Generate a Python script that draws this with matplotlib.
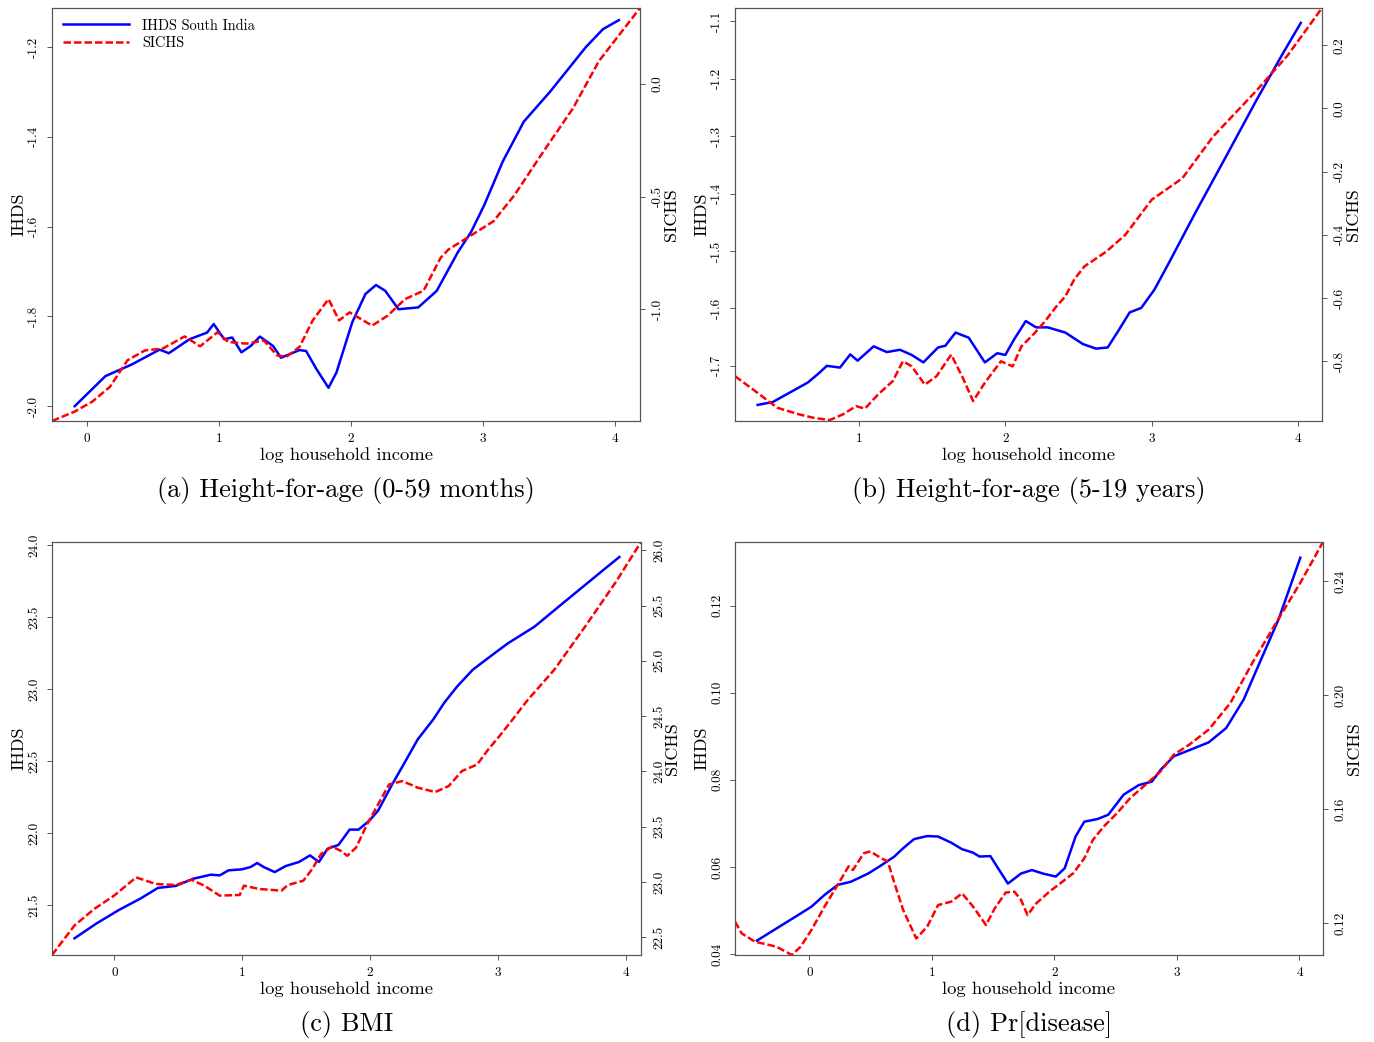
import numpy as np
import matplotlib
matplotlib.use("Agg")
import matplotlib.pyplot as plt

plt.rcParams['font.family'] = ['cmr10', 'DejaVu Serif']
plt.rcParams['axes.unicode_minus'] = False

# =========================
# DATA
# =========================
# (a) Height-for-age (0-59 months)
a_ihds_x = [-0.093, 0.14, 0.34, 0.55, 0.62, 0.776, 0.91, 0.96, 1.04, 1.1, 1.17, 1.24, 1.31, 1.41, 1.47,
            1.61, 1.66, 1.74, 1.83, 1.89, 2.01, 2.11, 2.19, 2.26, 2.36, 2.51, 2.65, 2.81, 2.91, 3.01,
            3.15, 3.31, 3.51, 3.78, 3.91, 4.03]
a_ihds_y = [-2.0, -1.933, -1.907, -1.874, -1.882, -1.851, -1.836, -1.817, -1.851, -1.847, -1.88, -1.866,
            -1.845, -1.866, -1.892, -1.875, -1.877, -1.918, -1.959, -1.925, -1.813, -1.75, -1.73, -1.743,
            -1.784, -1.78, -1.743, -1.657, -1.612, -1.552, -1.455, -1.366, -1.299, -1.2, -1.16, -1.14]
a_sichs_x = [-0.265, -0.093, 0.04, 0.174, 0.307, 0.44, 0.574, 0.74, 0.857, 0.99, 1.07, 1.21, 1.34, 1.44,
             1.51, 1.61, 1.71, 1.83, 1.91, 1.99, 2.16, 2.28, 2.41, 2.55, 2.68, 2.74, 2.88, 3.08, 3.24,
             3.44, 3.68, 3.88, 4.19]
a_sichs_y = [-1.498, -1.456, -1.412, -1.346, -1.228, -1.184, -1.176, -1.122, -1.166, -1.103, -1.147,
             -1.154, -1.14, -1.206, -1.213, -1.169, -1.051, -0.956, -1.051, -1.015, -1.074, -1.029,
             -0.956, -0.919, -0.772, -0.735, -0.684, -0.61, -0.493, -0.316, -0.11, 0.103, 0.338]

# (b) Height-for-age (5-19 years)
b_ihds_x = [0.307, 0.41, 0.53, 0.65, 0.72, 0.78, 0.87, 0.94, 0.99, 1.1, 1.19, 1.28, 1.36, 1.44, 1.54,
            1.59, 1.66, 1.75, 1.86, 1.945, 2.0, 2.06, 2.14, 2.21, 2.29, 2.41, 2.53, 2.62, 2.70, 2.78,
            2.85, 2.93, 3.02, 3.12, 3.3, 3.51, 3.72, 3.9, 4.02]
b_ihds_y = [-1.768, -1.763, -1.746, -1.729, -1.714, -1.7, -1.703, -1.68, -1.691, -1.666, -1.676, -1.672,
            -1.681, -1.694, -1.668, -1.665, -1.642, -1.651, -1.694, -1.678, -1.681, -1.654, -1.622,
            -1.633, -1.633, -1.642, -1.662, -1.67, -1.668, -1.636, -1.607, -1.599, -1.567, -1.52,
            -1.433, -1.335, -1.236, -1.155, -1.103]
b_sichs_x = [0.152, 0.292, 0.44, 0.59, 0.69, 0.8, 0.89, 0.98, 1.04, 1.13, 1.23, 1.3, 1.36, 1.45, 1.53,
             1.63, 1.71, 1.78, 1.86, 1.97, 2.05, 2.11, 2.2, 2.27, 2.35, 2.41, 2.47, 2.54, 2.69, 2.82,
             3.0, 3.21, 3.42, 3.72, 3.93, 4.165]
b_sichs_y = [-0.847, -0.895, -0.947, -0.968, -0.979, -0.986, -0.968, -0.942, -0.95, -0.905, -0.863,
             -0.8, -0.816, -0.874, -0.847, -0.779, -0.853, -0.926, -0.868, -0.8, -0.816, -0.753,
             -0.711, -0.674, -0.626, -0.595, -0.542, -0.5, -0.453, -0.4, -0.289, -0.221, -0.089,
             0.058, 0.168, 0.318]

# (c) BMI
c_ihds_x = [-0.313, -0.141, 0.031, 0.203, 0.34, 0.479, 0.617, 0.754, 0.823, 0.892, 0.996, 1.065, 1.116,
            1.168, 1.254, 1.34, 1.443, 1.53, 1.6, 1.667, 1.753, 1.84, 1.91, 1.995, 2.063, 2.167, 2.27,
            2.373, 2.494, 2.58, 2.683, 2.804, 2.89, 2.993, 3.08, 3.287, 3.476, 3.682, 3.855, 3.951]
c_ihds_y = [21.27, 21.373, 21.465, 21.546, 21.62, 21.634, 21.684, 21.712, 21.707, 21.742, 21.749, 21.765,
            21.793, 21.765, 21.73, 21.772, 21.8, 21.846, 21.8, 21.892, 21.919, 22.025, 22.025, 22.088,
            22.157, 22.33, 22.49, 22.652, 22.79, 22.906, 23.021, 23.136, 23.194, 23.263, 23.32,
            23.435, 23.574, 23.724, 23.85, 23.919]
c_sichs_x = [-0.489, -0.313, -0.158, -0.003, 0.169, 0.324, 0.479, 0.6, 0.703, 0.823, 0.98, 1.013, 1.133,
             1.306, 1.357, 1.478, 1.547, 1.616, 1.702, 1.771, 1.822, 1.891, 1.977, 2.063, 2.149, 2.253,
             2.373, 2.511, 2.615, 2.718, 2.838, 2.924, 3.011, 3.114, 3.235, 3.441, 3.682, 3.924, 4.12]
c_sichs_y = [22.34, 22.607, 22.757, 22.877, 23.042, 22.982, 22.973, 23.021, 22.967, 22.877, 22.883,
             22.967, 22.937, 22.922, 22.973, 23.012, 23.117, 23.252, 23.321, 23.282, 23.237, 23.312,
             23.523, 23.703, 23.883, 23.913, 23.853, 23.814, 23.868, 24.003, 24.063, 24.198, 24.318,
             24.468, 24.649, 24.919, 25.309, 25.715, 26.075]

# (d) Pr[disease]
d_ihds_x = [-0.427, -0.267, -0.089, 0.018, 0.125, 0.232, 0.338, 0.481, 0.588, 0.694, 0.766, 0.855, 0.962,
            1.05, 1.157, 1.246, 1.336, 1.389, 1.478, 1.532, 1.621, 1.728, 1.817, 1.906, 2.012, 2.084,
            2.173, 2.244, 2.351, 2.44, 2.565, 2.689, 2.796, 2.867, 2.974, 3.117, 3.259, 3.402, 3.544,
            3.686, 3.829, 4.007]
d_ihds_y = [0.0431, 0.0459, 0.049, 0.0509, 0.0536, 0.0559, 0.0566, 0.0585, 0.0604, 0.0624, 0.0643,
            0.0664, 0.0671, 0.067, 0.0656, 0.0641, 0.0633, 0.0624, 0.0625, 0.0601, 0.0562, 0.0585,
            0.0593, 0.0585, 0.0578, 0.0597, 0.067, 0.0704, 0.071, 0.072, 0.0766, 0.0788, 0.0796,
            0.0823, 0.0854, 0.087, 0.0886, 0.0919, 0.0984, 0.1076, 0.1168, 0.131]
d_sichs_x = [-0.606, -0.552, -0.445, -0.267, -0.142, -0.071, 0.018, 0.125, 0.232, 0.321, 0.356, 0.445,
             0.499, 0.588, 0.641, 0.695, 0.766, 0.873, 0.962, 1.051, 1.158, 1.247, 1.336, 1.442, 1.514,
             1.603, 1.674, 1.728, 1.781, 1.852, 1.959, 2.048, 2.155, 2.244, 2.315, 2.404, 2.511,
             2.618, 2.76, 2.867, 2.974, 3.099, 3.259, 3.437, 3.615, 3.793, 4.007, 4.192]
d_sichs_y = [0.1206, 0.1165, 0.1136, 0.1118, 0.1089, 0.1118, 0.1177, 0.1259, 0.1335, 0.14, 0.1387,
             0.1446, 0.1452, 0.1428, 0.1417, 0.1341, 0.1247, 0.1147, 0.1188, 0.1264, 0.1276, 0.1305,
             0.1259, 0.1194, 0.1253, 0.1308, 0.1311, 0.1282, 0.1229, 0.127, 0.1311, 0.134, 0.1376,
             0.1428, 0.1493, 0.154, 0.1586, 0.1639, 0.1692, 0.1733, 0.1791, 0.1826, 0.1879, 0.1973,
             0.2113, 0.2242, 0.2394, 0.2537]

# ticks and labels per panel
x_ticks = [0, 1, 2, 3, 4]
b_x_ticks = [1, 2, 3, 4]
a_left_ticks = [-2.0, -1.8, -1.6, -1.4, -1.2]
a_left_labels = ["-2.0", "-1.8", "-1.6", "-1.4", "-1.2"]
a_right_ticks = [-1.0, -0.5, 0.0]
a_right_labels = ["-1.0", "-0.5", "0.0"]
b_left_ticks = [-1.7, -1.6, -1.5, -1.4, -1.3, -1.2, -1.1]
b_left_labels = ["-1.7", "-1.6", "-1.5", "-1.4", "-1.3", "-1.2", "-1.1"]
b_right_ticks = [-0.8, -0.6, -0.4, -0.2, 0.0, 0.2]
b_right_labels = ["-0.8", "-0.6", "-0.4", "-0.2", "0.0", "0.2"]
c_left_ticks = [21.5, 22.0, 22.5, 23.0, 23.5, 24.0]
c_left_labels = ["21.5", "22.0", "22.5", "23.0", "23.5", "24.0"]
c_right_ticks = [22.5, 23.0, 23.5, 24.0, 24.5, 25.0, 25.5, 26.0]
c_right_labels = ["22.5", "23.0", "23.5", "24.0", "24.5", "25.0", "25.5", "26.0"]
d_left_ticks = [0.04, 0.06, 0.08, 0.10, 0.12]
d_left_labels = ["0.04", "0.06", "0.08", "0.10", "0.12"]
d_right_ticks = [0.12, 0.16, 0.20, 0.24]
d_right_labels = ["0.12", "0.16", "0.20", "0.24"]

captions = ["(a) Height-for-age (0-59 months)", "(b) Height-for-age (5-19 years)",
            "(c) BMI", "(d) Pr[disease]"]

# =========================
# PLOT
# =========================
W, H = 1374, 1042
fig = plt.figure(figsize=(W / 100, H / 100), dpi=100)

panels = [
    dict(box=(52, 8, 640, 421), ix=a_ihds_x, iy=a_ihds_y, sx=a_sichs_x, sy=a_sichs_y,
         xt=x_ticks, ylim=(-2.033, -1.113), y2lim=(-1.498, 0.338),
         lt=a_left_ticks, ll=a_left_labels, rt=a_right_ticks, rl=a_right_labels),
    dict(box=(735, 8, 1322, 421), ix=b_ihds_x, iy=b_ihds_y, sx=b_sichs_x, sy=b_sichs_y,
         xt=b_x_ticks, ylim=(-1.796, -1.077), y2lim=(-0.989, 0.318),
         lt=b_left_ticks, ll=b_left_labels, rt=b_right_ticks, rl=b_right_labels),
    dict(box=(52, 542, 641, 955), ix=c_ihds_x, iy=c_ihds_y, sx=c_sichs_x, sy=c_sichs_y,
         xt=x_ticks, ylim=(21.154, 24.023), y2lim=(22.34, 26.075),
         lt=c_left_ticks, ll=c_left_labels, rt=c_right_ticks, rl=c_right_labels),
    dict(box=(735, 542, 1323, 955), ix=d_ihds_x, iy=d_ihds_y, sx=d_sichs_x, sy=d_sichs_y,
         xt=x_ticks, ylim=(0.0398, 0.1346), y2lim=(0.1089, 0.2537),
         lt=d_left_ticks, ll=d_left_labels, rt=d_right_ticks, rl=d_right_labels),
]

spine_col = "#555555"
for i, p in enumerate(panels):
    x0, y0, x1, y1 = p["box"]
    w, h = x1 - x0, y1 - y0
    ax = fig.add_axes([x0 / W, 1 - y1 / H, w / W, h / H])
    ax2 = ax.twinx()

    l1, = ax.plot(p["ix"], p["iy"], color="#0000ff", lw=1.8)
    l2, = ax2.plot(p["sx"], p["sy"], color="#ff0000", lw=1.8, linestyle=(0, (3, 1.2)))

    ax.set_xlim(p["sx"][0], p["sx"][-1])
    ax.set_ylim(*p["ylim"])
    ax2.set_ylim(*p["y2lim"])

    ax.set_xticks(p["xt"], [str(t) for t in p["xt"]])
    ax.set_yticks(p["lt"], p["ll"])
    ax2.set_yticks(p["rt"], p["rl"])

    for a in (ax, ax2):
        for s in a.spines.values():
            s.set_color(spine_col)
            s.set_linewidth(0.8)
        a.tick_params(direction="out", length=3.5, width=0.7, color=spine_col, labelsize=9.5, pad=5)
    for lab in ax.get_yticklabels() + ax2.get_yticklabels():
        lab.set_rotation(90)
        lab.set_va("center")
    for lab in ax.get_yticklabels():
        lab.set_ha("right")
    for lab in ax2.get_yticklabels():
        lab.set_ha("left")

    ax.set_ylabel("IHDS", fontsize=13)
    ax.yaxis.set_label_coords(-25 / w, 0.5)
    ax2.set_ylabel("SICHS", fontsize=13, rotation=90)
    ax2.yaxis.set_label_coords(1 + 24 / w, 0.5)
    ax.set_xlabel("log household income", fontsize=13.4)
    ax.xaxis.set_label_coords(0.5, -26 / h)

    fig.text((x0 + x1) / 2 / W, 1 - (y1 + 70) / H, captions[i], fontsize=19,
             ha="center", va="center")

    if i == 0:
        ax.legend([l1, l2], ["IHDS South India", "SICHS"], loc="upper left", frameon=False,
                  fontsize=10.4, handlelength=4.6, handletextpad=0.9, borderaxespad=0.35,
                  labelspacing=0.25)

fig.savefig("out.png", dpi=100)
